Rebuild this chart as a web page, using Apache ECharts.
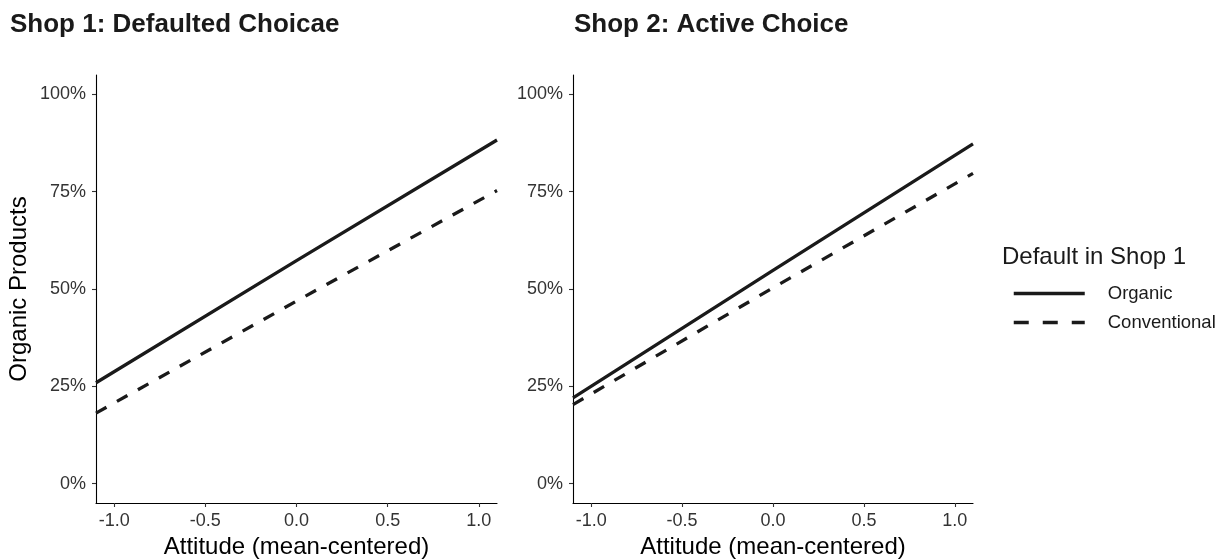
<!DOCTYPE html>
<html>
<head>
<meta charset="utf-8">
<script src="https://cdn.jsdelivr.net/npm/echarts@6/dist/echarts.min.js"></script>
<style>html,body{margin:0;padding:0;background:#fff;}#c{width:1223px;height:559px;}</style>
</head>
<body>
<div id="c"></div>
<script>
const attitude = [-1.1, 0, 1.1];
const shop1Organic = [25.9, 57.3, 88.3];
const shop1Conventional = [18.1, 46.9, 75.3];
const shop2Organic = [22.0, 54.8, 87.3];
const shop2Conventional = [20.3, 50.3, 79.7];
const xTicks = [-1.0, -0.5, 0.0, 0.5, 1.0];
const yTicks = [0, 25, 50, 75, 100];
const panelTitles = ['Shop 1: Defaulted Choicae', 'Shop 2: Active Choice'];
const legendTitle = 'Default in Shop 1';
const seriesNames = ['Organic', 'Conventional'];

const FONT = '"Liberation Sans", Arial, Helvetica, sans-serif';
const pairs = (xs, ys) => xs.map((x, i) => [x, ys[i]]);

function xAxisCfg(gi) {
  return {
    type: 'value', gridIndex: gi, min: -1.1, max: 1.1,
    name: 'Attitude (mean-centered)', nameLocation: 'middle', nameGap: 31,
    nameTextStyle: { fontFamily: FONT, fontSize: 24, color: '#000' },
    axisLine: { show: true, onZero: false, lineStyle: { color: '#000', width: 1.1 } },
    axisTick: { show: true, length: 4, customValues: xTicks, lineStyle: { color: '#333', width: 1.1 } },
    axisLabel: { customValues: xTicks, margin: 9, fontFamily: FONT, fontSize: 18, color: '#333',
      formatter: v => v.toFixed(1) },
    splitLine: { show: false }
  };
}
function yAxisCfg(gi, withName) {
  return {
    type: 'value', gridIndex: gi, min: -5, max: 105,
    name: withName ? 'Organic Products' : '', nameLocation: 'middle', nameGap: 65,
    nameTextStyle: { fontFamily: FONT, fontSize: 24, color: '#000' },
    axisLine: { show: true, onZero: false, lineStyle: { color: '#000', width: 1.1 } },
    axisTick: { show: true, length: 4, customValues: yTicks, lineStyle: { color: '#333', width: 1.1 } },
    axisLabel: { customValues: yTicks, margin: 10, fontFamily: FONT, fontSize: 18, color: '#333',
      formatter: v => Math.round(v) + '%' },
    splitLine: { show: false }
  };
}
function lineSeries(name, gi, ys, dashed) {
  return {
    name: name, type: 'line', xAxisIndex: gi, yAxisIndex: gi,
    data: pairs(attitude, ys), symbol: 'none', silent: true, animation: false,
    itemStyle: { color: '#1a1a1a' },
    lineStyle: { color: '#1a1a1a', width: 3.3, type: dashed ? [12, 12] : 'solid' }
  };
}

const chart = echarts.init(document.getElementById('c'), null, { renderer: 'canvas' });
chart.setOption({
  backgroundColor: '#fff',
  animation: false,
  title: [
    { text: panelTitles[0], left: 5, top: 7, textStyle: { fontFamily: FONT, fontSize: 26, fontWeight: 'bold', color: '#1a1a1a' } },
    { text: panelTitles[1], left: 569, top: 7, textStyle: { fontFamily: FONT, fontSize: 26, fontWeight: 'bold', color: '#1a1a1a' } },
    { text: legendTitle, left: 997, top: 240, textStyle: { fontFamily: FONT, fontSize: 24, fontWeight: 'normal', color: '#1a1a1a' } }
  ],
  legend: {
    orient: 'vertical', left: 1007, top: 279, itemWidth: 71, itemHeight: 14, itemGap: 10,
    selectedMode: false,
    textStyle: { fontFamily: FONT, fontSize: 18.5, color: '#1a1a1a', padding: [0, 0, 0, 18] },
    data: [
      { name: seriesNames[0], itemStyle: { opacity: 0 }, lineStyle: { color: '#1a1a1a', width: 3.5, type: 'solid' } },
      { name: seriesNames[1], itemStyle: { opacity: 0 }, lineStyle: { color: '#1a1a1a', width: 3.5, type: [15, 14] } }
    ]
  },
  grid: [
    { left: 96, top: 75, width: 401, height: 428, containLabel: false, outerBoundsMode: 'none' },
    { left: 573, top: 75, width: 400, height: 428, containLabel: false, outerBoundsMode: 'none' }
  ],
  xAxis: [xAxisCfg(0), xAxisCfg(1)],
  yAxis: [yAxisCfg(0, true), yAxisCfg(1, false)],
  series: [
    lineSeries(seriesNames[0], 0, shop1Organic, false),
    lineSeries(seriesNames[1], 0, shop1Conventional, true),
    lineSeries(seriesNames[0], 1, shop2Organic, false),
    lineSeries(seriesNames[1], 1, shop2Conventional, true)
  ]
});
</script>
</body>
</html>
